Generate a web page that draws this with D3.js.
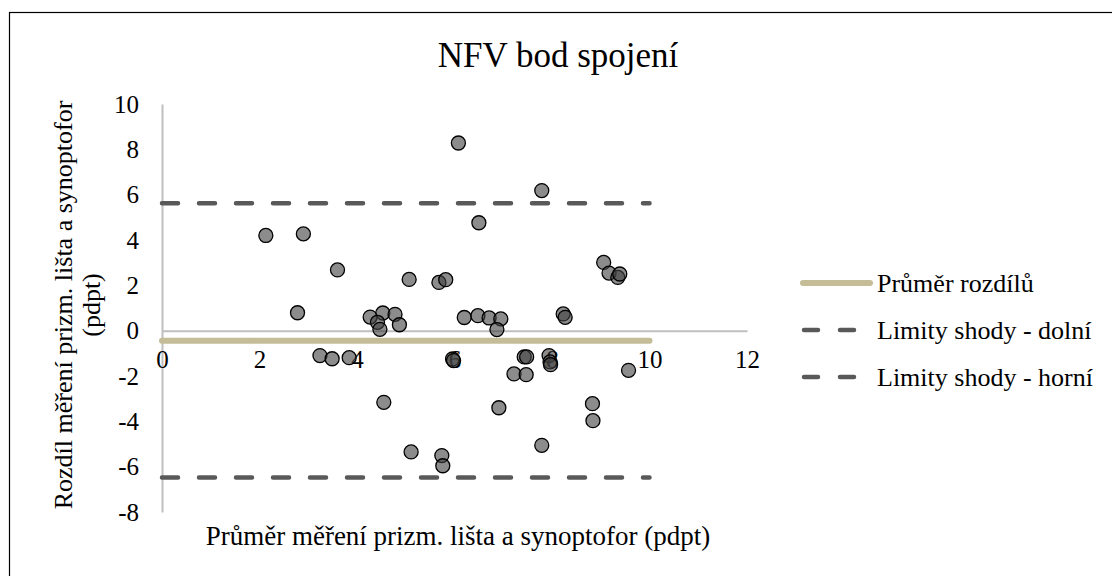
<!DOCTYPE html>
<html>
<head>
<meta charset="utf-8">
<script src="https://cdn.jsdelivr.net/npm/d3@7"></script>
<style>
  body { margin: 0; background: #fff; }
  svg text { font-family: "Liberation Serif", "Times New Roman", serif; fill: #000; }
</style>
</head>
<body>
<svg id="chart" width="1112" height="576"></svg>
<script>
// Bland-Altman data
const meanValues = [2.13, 2.90, 3.60, 5.07, 2.78, 4.27, 4.53, 4.42, 4.47, 4.78, 4.87, 3.24, 3.49, 3.84, 4.55, 5.11,
  6.08, 7.79, 6.50, 5.68, 5.82, 9.06, 9.17, 9.35, 9.39, 6.20, 6.48, 6.71, 6.95, 6.87, 8.23, 8.27,
  5.96, 5.98, 7.43, 7.48, 7.22, 7.47, 7.94, 7.96, 7.97, 9.57, 6.91, 8.83, 8.84, 7.79, 5.74, 5.76];
const diffValues = [4.20, 4.27, 2.68, 2.26, 0.79, 0.60, 0.78, 0.37, 0.06, 0.72, 0.26, -1.10, -1.24, -1.19, -3.16, -5.35,
  8.28, 6.18, 4.76, 2.13, 2.25, 3.01, 2.54, 2.35, 2.50, 0.58, 0.66, 0.56, 0.52, 0.05, 0.74, 0.59,
  -1.25, -1.32, -1.16, -1.16, -1.91, -1.94, -1.10, -1.38, -1.50, -1.75, -3.40, -3.22, -3.97, -5.06, -5.51, -5.96];

const meanDiff = -0.44;
const lowerLimit = -6.48;
const upperLimit = 5.62;
const lineExtent = [0, 10];

const xTicks = [0, 2, 4, 6, 8, 10, 12];
const yTicks = [-8, -6, -4, -2, 0, 2, 4, 6, 8, 10];

const titleText = 'NFV bod spojení';
const xTitle = 'Průměr měření prizm. lišta a synoptofor (pdpt)';
const yTitleLines = ['Rozdíl měření prizm. lišta a synoptofor', '(pdpt)'];
const legendLabels = ['Průměr rozdílů', 'Limity shody - dolní', 'Limity shody - horní'];

const serif = '"Liberation Serif", "Times New Roman", serif';
const svg = d3.select('#chart');

// outer frame
svg.append('rect')
  .attr('x', 9.5).attr('y', 12.5)
  .attr('width', 1120).attr('height', 580)
  .attr('fill', 'none').attr('stroke', '#000').attr('stroke-width', 1.2);

const x = d3.scaleLinear().domain([0, 12]).range([162, 747]);
const y = d3.scaleLinear().domain([-8, 10]).range([512, 104]);

svg.append('text')
  .attr('x', 558).attr('y', 67)
  .attr('text-anchor', 'middle')
  .attr('font-family', serif)
  .attr('font-size', 35)
  .text(titleText);

// y axis (line + labels)
const yAxis = svg.append('g')
  .attr('transform', `translate(${x(0)},0)`)
  .call(d3.axisLeft(y).tickValues(yTicks).tickSize(0).tickPadding(23).tickFormat(d => String(d)));
yAxis.select('.domain').attr('stroke', '#bfbfbf').attr('stroke-width', 2);
yAxis.selectAll('text').attr('font-size', 25).attr('font-family', serif).attr('fill', '#000');

// x axis drawn at y = 0
const xAxis = svg.append('g')
  .attr('transform', `translate(0,${y(0)})`)
  .call(d3.axisBottom(x).tickValues(xTicks).tickSize(0).tickPadding(20).tickFormat(d => String(d)));
xAxis.select('.domain').attr('stroke', '#bfbfbf').attr('stroke-width', 2);
xAxis.selectAll('text').attr('font-size', 25).attr('font-family', serif).attr('fill', '#000');

// axis titles
svg.append('text')
  .attr('x', 458).attr('y', 545)
  .attr('text-anchor', 'middle')
  .attr('font-family', serif)
  .attr('font-size', 27)
  .text(xTitle);

const yt = svg.append('text')
  .attr('transform', 'translate(72,305) rotate(-90)')
  .attr('text-anchor', 'middle')
  .attr('font-family', serif)
  .attr('font-size', 26);
yTitleLines.forEach((t, i) => {
  yt.append('tspan').attr('x', 0).attr('dy', i === 0 ? 0 : 28).text(t);
});

// reference lines
const line = d3.line().x(d => x(d[0])).y(d => y(d[1]));
const refs = [
  { v: meanDiff, color: '#c4bd97', width: 6, dash: null },
  { v: lowerLimit, color: '#595959', width: 4.5, dash: '16,21' },
  { v: upperLimit, color: '#595959', width: 4.5, dash: '16,21' }
];
refs.forEach(r => {
  svg.append('path')
    .attr('d', line(lineExtent.map(e => [e, r.v])))
    .attr('fill', 'none')
    .attr('stroke', r.color)
    .attr('stroke-width', r.width)
    .attr('stroke-linecap', 'round')
    .attr('stroke-dasharray', r.dash);
});

// points
svg.append('g').selectAll('circle')
  .data(meanValues.map((m, i) => [m, diffValues[i]]))
  .enter()
  .append('circle')
  .attr('cx', d => x(d[0]))
  .attr('cy', d => y(d[1]))
  .attr('r', 7)
  .attr('fill', '#3f3f3f')
  .attr('fill-opacity', 0.6)
  .attr('stroke', '#000')
  .attr('stroke-width', 1.3);

// legend
const legend = svg.append('g');
refs.forEach((r, i) => {
  const ly = 283 + i * 47;
  legend.append('line')
    .attr('x1', r.dash ? 804 : 803).attr('x2', r.dash ? 856 : 870)
    .attr('y1', ly).attr('y2', ly)
    .attr('stroke', r.color)
    .attr('stroke-width', r.width)
    .attr('stroke-linecap', 'round')
    .attr('stroke-dasharray', r.dash ? '14,22' : null);
  legend.append('text')
    .attr('x', 877).attr('y', ly + 9)
    .attr('font-family', serif)
    .attr('font-size', 26)
    .text(legendLabels[i]);
});
</script>
</body>
</html>
